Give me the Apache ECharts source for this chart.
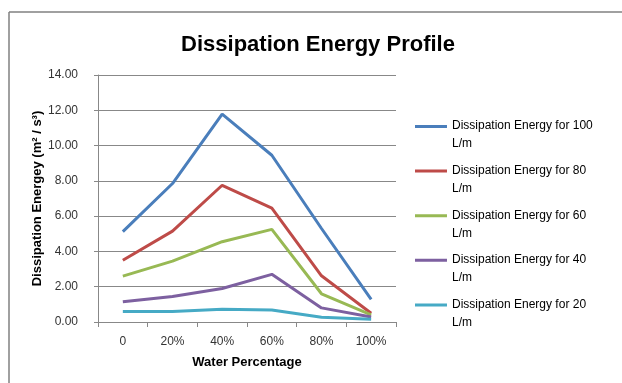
<!DOCTYPE html>
<html><head><meta charset="utf-8">
<script src="https://cdn.jsdelivr.net/npm/echarts@6/dist/echarts.min.js"></script>
<style>html,body{margin:0;padding:0;background:#fff}#c{width:622px;height:383px}</style>
</head><body><div id="c"></div>
<script>
const categories = ['0', '20%', '40%', '60%', '80%', '100%'];
const seriesNames = [
  'Dissipation Energy for 100 L/m',
  'Dissipation Energy for 80 L/m',
  'Dissipation Energy for 60 L/m',
  'Dissipation Energy for 40 L/m',
  'Dissipation Energy for 20 L/m'
];
const flow100 = [5.12, 7.85, 11.78, 9.45, 5.3, 1.28];
const flow80 = [3.5, 5.15, 7.75, 6.45, 2.62, 0.5];
const flow60 = [2.6, 3.45, 4.55, 5.25, 1.6, 0.4];
const flow40 = [1.15, 1.45, 1.9, 2.7, 0.8, 0.28];
const flow20 = [0.6, 0.6, 0.72, 0.68, 0.27, 0.15];
const colors = ['#4a7ebb', '#be4b48', '#98b954', '#7d60a0', '#46aac5'];
const allData = [flow100, flow80, flow60, flow40, flow20];

const chart = echarts.init(document.getElementById('c'), null, {renderer: 'canvas'});
const font = '"Liberation Sans", Arial, sans-serif';
chart.setOption({
  animation: false,
  color: colors,
  title: {
    text: 'Dissipation Energy Profile',
    left: 313, top: 29, textAlign: 'center',
    textStyle: {fontFamily: font, fontSize: 22, fontWeight: 'bold', color: '#000'}
  },
  grid: {left: 98, right: 226, top: 75, bottom: 61},
  legend: {
    orient: 'vertical',
    left: 415, top: 117, padding: 0,
    itemWidth: 32, itemHeight: 20, itemGap: 8.6,
    icon: 'path://M0,0H32V3H0Z M0,20H0.01V20.01H0Z',
    formatter: n => n.replace(' L/m', '\nL/m'),
    textStyle: {fontFamily: font, fontSize: 12, color: '#000', lineHeight: 18},
    data: seriesNames
  },
  xAxis: {
    type: 'category', data: categories, boundaryGap: true,
    name: 'Water Percentage', nameLocation: 'middle', nameGap: 34,
    nameTextStyle: {fontFamily: font, fontSize: 13, fontWeight: 'bold', color: '#000'},
    axisLine: {lineStyle: {color: '#888', width: 1}},
    axisTick: {show: true, alignWithLabel: false, length: 5, lineStyle: {color: '#888'}},
    axisLabel: {fontFamily: font, fontSize: 12, color: '#333', margin: 14}
  },
  yAxis: {
    type: 'value', min: 0, max: 14, interval: 2,
    name: 'Dissipation Energey (m² / s³)', nameLocation: 'middle', nameGap: 52,
    nameTextStyle: {fontFamily: font, fontSize: 13, fontWeight: 'bold', color: '#000'},
    axisLine: {show: true, lineStyle: {color: '#888', width: 1}},
    axisTick: {show: true, length: 4, lineStyle: {color: '#888'}},
    axisLabel: {fontFamily: font, fontSize: 12, color: '#333', margin: 20, formatter: v => v.toFixed(2)},
    splitLine: {lineStyle: {color: '#888', width: 1}}
  },
  series: seriesNames.map((n, i) => ({
    name: n, type: 'line', data: allData[i],
    symbol: 'none', lineStyle: {width: 3, color: colors[i]}, itemStyle: {color: colors[i]}
  })),
  graphic: [
    {type: 'line', shape: {x1: 9, y1: 12, x2: 622, y2: 12}, style: {stroke: '#808080', lineWidth: 1.5}},
    {type: 'line', shape: {x1: 9, y1: 12, x2: 9, y2: 383}, style: {stroke: '#808080', lineWidth: 1.5}}
  ]
});
</script></body></html>
